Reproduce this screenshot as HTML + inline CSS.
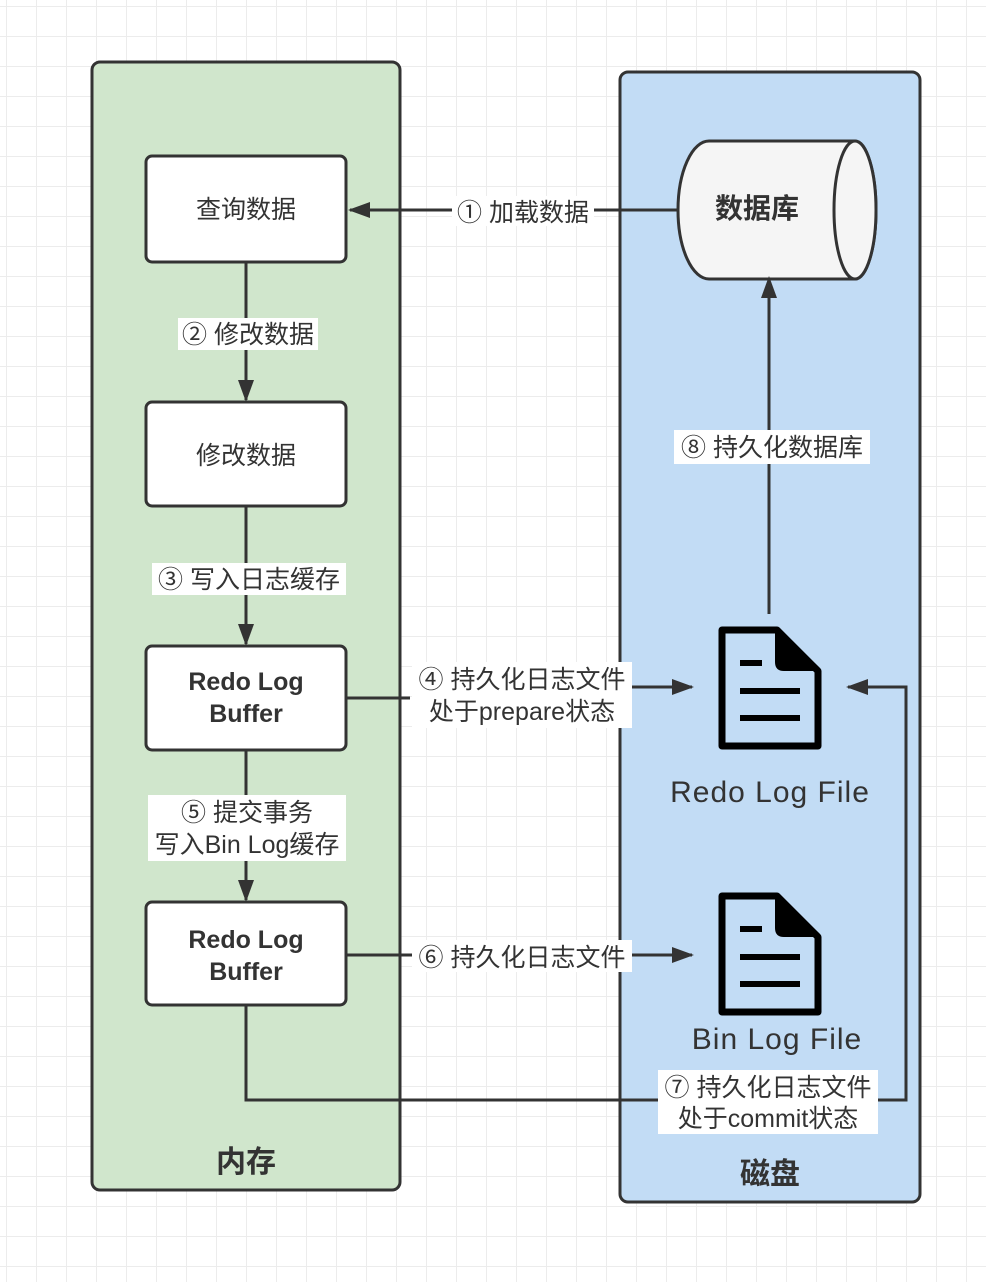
<!DOCTYPE html>
<html><head><meta charset="utf-8"><style>
html,body{margin:0;padding:0;background:#fff}
svg{display:block}
text{font-family:"Liberation Sans","Noto Sans CJK SC",sans-serif;fill:#333}
</style></head><body>
<svg width="986" height="1282" viewBox="0 0 986 1282" xmlns="http://www.w3.org/2000/svg">
<defs>
<pattern id="g" x="6" y="6" width="30" height="30" patternUnits="userSpaceOnUse">
<path d="M0 0H30M0 0V30" stroke="#ececec" stroke-width="2" fill="none"/>
</pattern>
<marker id="a" markerWidth="22" markerHeight="16" refX="20" refY="8" orient="auto" markerUnits="userSpaceOnUse">
<path d="M0 0L22 8L0 16L0 8Z" fill="#333"/>
</marker>
</defs>
<rect width="986" height="1282" fill="#fff"/>
<rect width="986" height="1282" fill="url(#g)"/>
<rect x="92" y="62" width="308" height="1128" rx="8" fill="#d0e6cc" stroke="#333" stroke-width="3"/>
<rect x="620" y="72" width="300" height="1130" rx="8" fill="#c2dcf5" stroke="#333" stroke-width="3"/>

<g fill="#fff" stroke="#333" stroke-width="3">
<rect x="146" y="156" width="200" height="106" rx="6"/>
<rect x="146" y="402" width="200" height="104" rx="6"/>
<rect x="146" y="646" width="200" height="104" rx="6"/>
<rect x="146" y="902" width="200" height="103" rx="6"/>
</g>
<path d="M709 141H855A21 69 0 0 1 855 279H709A31 69 0 0 1 709 141Z" fill="#f5f5f5" stroke="#333" stroke-width="3"/>
<ellipse cx="855" cy="210" rx="21" ry="69" fill="#f5f5f5" stroke="#333" stroke-width="3"/>

<g stroke="#333" stroke-width="3" fill="none">
<line x1="678" y1="210" x2="350" y2="210" marker-end="url(#a)"/>
<line x1="246" y1="262" x2="246" y2="400" marker-end="url(#a)"/>
<line x1="246" y1="506" x2="246" y2="644" marker-end="url(#a)"/>
<line x1="246" y1="750" x2="246" y2="900" marker-end="url(#a)"/>
<line x1="346" y1="698" x2="410" y2="698"/>
<line x1="630" y1="687" x2="692" y2="687" marker-end="url(#a)"/>
<line x1="346" y1="955" x2="692" y2="955" marker-end="url(#a)"/>
<polyline points="246,1005 246,1100 906,1100 906,687 848,687" marker-end="url(#a)"/>
<line x1="769" y1="614" x2="769" y2="278" marker-end="url(#a)"/>
</g>

<g fill="#fff">
<rect x="452" y="196" width="142" height="30"/>
<rect x="178" y="318" width="140" height="32"/>
<rect x="152" y="563" width="194" height="32"/>
<rect x="412" y="662" width="220" height="66"/>
<rect x="148" y="795" width="198" height="66"/>
<rect x="412" y="940" width="220" height="32"/>
<rect x="658" y="1070" width="220" height="64"/>
<rect x="674" y="430" width="196" height="34"/>
</g>

<g font-size="25" text-anchor="middle">
<text x="246" y="218">查询数据</text>
<text x="246" y="464">修改数据</text>
<text x="523" y="221">① 加载数据</text>
<text x="248" y="343">② 修改数据</text>
<text x="249" y="588">③ 写入日志缓存</text>
<text x="522" y="688">④ 持久化日志文件</text>
<text x="522" y="720">处于prepare状态</text>
<text x="247" y="821">⑤ 提交事务</text>
<text x="247" y="853">写入Bin Log缓存</text>
<text x="522" y="966">⑥ 持久化日志文件</text>
<text x="768" y="1096">⑦ 持久化日志文件</text>
<text x="768" y="1127">处于commit状态</text>
<text x="772" y="456">⑧ 持久化数据库</text>
</g>
<g font-size="25" text-anchor="middle" font-weight="bold">
<text x="246" y="690">Redo Log</text>
<text x="246" y="722">Buffer</text>
<text x="246" y="948">Redo Log</text>
<text x="246" y="980">Buffer</text>
</g>
<g font-weight="bold" text-anchor="middle">
<text x="757" y="218" font-size="28">数据库</text>
<text x="246" y="1172" font-size="30">内存</text>
<text x="770" y="1184" font-size="30">磁盘</text>
</g>
<g font-size="30" text-anchor="middle" letter-spacing="1">
<text x="770" y="802">Redo Log File</text>
<text x="777" y="1049">Bin Log File</text>
</g>

<g id="doc">
<path d="M722 630H777L818 671V746H722Z" fill="none" stroke="#000" stroke-width="7" stroke-linejoin="round"/>
<path d="M777 630V662Q777 669 784 669H818Z" fill="#000" stroke="#000" stroke-width="4" stroke-linejoin="round"/>
<g stroke="#000" stroke-width="6">
<line x1="740" y1="663" x2="762" y2="663"/>
<line x1="740" y1="691" x2="800" y2="691"/>
<line x1="740" y1="718" x2="800" y2="718"/>
</g>
</g>
<use href="#doc" x="0" y="266"/>
</svg>
</body></html>
